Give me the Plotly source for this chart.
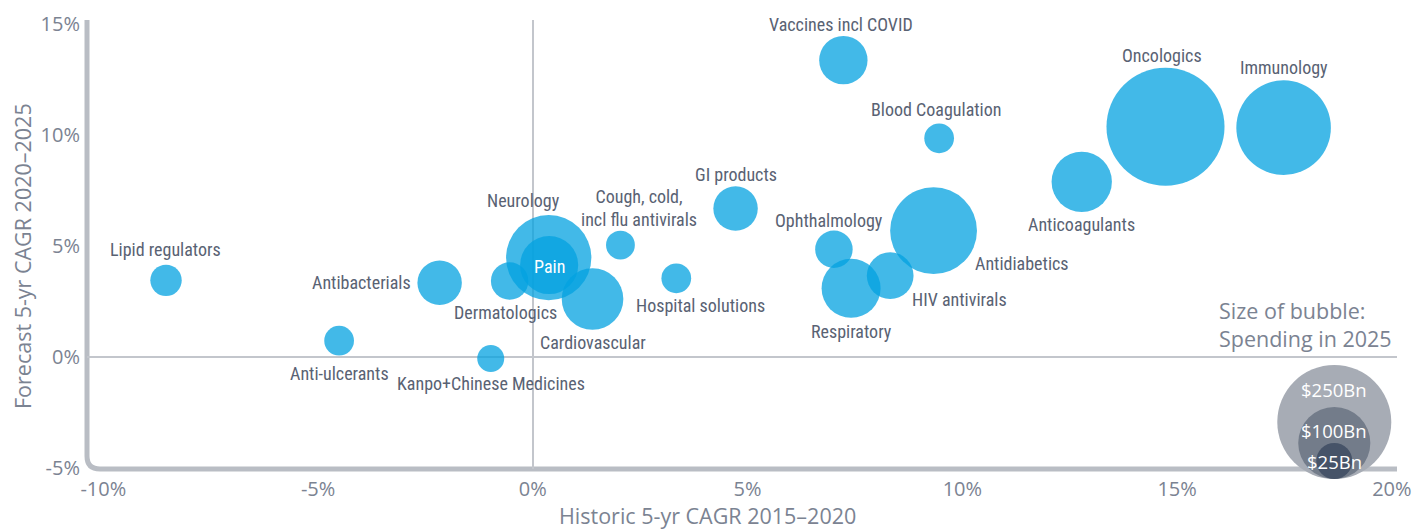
import numpy as np
import plotly.graph_objects as go

# ---------------- data ----------------
categories = [
    "Lipid regulators", "Antibacterials", "Anti-ulcerants", "Kanpo+Chinese Medicines",
    "Dermatologics", "Neurology", "Pain", "Cardiovascular",
    "Cough, cold,<br>incl flu antivirals", "Hospital solutions", "GI products",
    "Vaccines incl COVID", "Blood Coagulation", "Ophthalmology", "Respiratory",
    "HIV antivirals", "Antidiabetics", "Anticoagulants", "Oncologics", "Immunology",
]
historic_cagr = [-8.54, -2.17, -4.51, -0.98, -0.54, 0.37, 0.38, 1.39, 2.04, 3.34, 4.72,
                 7.23, 9.46, 7.01, 7.41, 8.32, 9.33, 12.78, 14.73, 17.48]
forecast_cagr = [3.44, 3.33, 0.72, -0.08, 3.41, 4.46, 4.13, 2.60, 5.03, 3.53, 6.68,
                 13.36, 9.84, 4.84, 3.08, 3.65, 5.68, 7.88, 10.36, 10.32]
spending_2025 = [19, 38, 17, 14, 27, 140, 65, 73, 16, 17, 38,
                 45, 17, 27, 67, 42, 145, 70, 268, 172]

x_tick_vals = [-10, -5, 0, 5, 10, 15, 20]
x_tick_text = ["-10%", "-5%", "0%", "5%", "10%", "15%", "20%"]
y_tick_vals = [-5, 0, 5, 10, 15]
y_tick_text = ["-5%", "0%", "5%", "10%", "15%"]

legend_values = [250, 100, 25]
legend_labels = ["$250Bn", "$100Bn", "$25Bn"]

# ---------------- styling / layout constants ----------------
W, H = 1414, 529
# plot area in page pixels
X0_PX, X1_PX, Y_TOP, Y_BOT = 87, 1397, 20, 469
XR = [-10.38, 20.12]
YR = [-5.06, 15.17]
PX_X = (X1_PX - X0_PX) / (XR[1] - XR[0])
PX_Y = (Y_BOT - Y_TOP) / (YR[1] - YR[0])


def paper_x(px):
    return (px - X0_PX) / (X1_PX - X0_PX)


def paper_y(py):
    return (Y_BOT - py) / (Y_BOT - Y_TOP)


K = 57 / np.sqrt(250)          # px radius per sqrt($Bn)
SIZEREF = 1 / (2 * K * K)       # plotly area mode: r = sqrt(v / (2*sizeref))

BUBBLE = "rgba(3,162,224,0.75)"
LABEL_COLOR = "#596273"
AXIS_TEXT = "#7b8392"
AXIS_LINE = "#b9bdc4"
ZERO_LINE = "#c3c6cc"
LABEL_FONT = "Liberation Sans Narrow, Roboto Condensed, DejaVu Sans Condensed, sans-serif"
AXIS_FONT = "Open Sans, Noto Sans, sans-serif"

# label placement: (xshift px, yshift px, xanchor)
label_place = [
    (-0.4, 31, "center"), (-26.6, 0, "right"), (0, -32.6, "center"), (0, -25, "center"),
    (-4, -31, "center"), (-25, 57, "center"), (0, -1, "center"), (0, -43.7, "center"),
    (19, 36.7, "center"), (-42.7, -26.7, "left"), (0, 34.3, "center"),
    (-2, 36, "center"), (-2.4, 29.3, "center"), (-4.6, 28.6, "center"), (0, -43.4, "center"),
    (19.5, -24.3, "left"), (39.4, -33.3, "left"), (0, -42.3, "center"), (-3.3, 71.7, "center"),
    (0, 59.7, "center"),
]

fig = go.Figure()

fig.add_trace(go.Scatter(
    x=historic_cagr, y=forecast_cagr, mode="markers",
    marker=dict(size=spending_2025, sizemode="area", sizeref=SIZEREF,
                color=BUBBLE, opacity=1, line=dict(width=0)),
    hovertext=categories, hoverinfo="text", showlegend=False,
))

annotations = []
for name, x, y, (dx, dy, anc) in zip(categories, historic_cagr, forecast_cagr, label_place):
    color = "white" if name == "Pain" else LABEL_COLOR
    annotations.append(dict(
        x=x, y=y, xref="x", yref="y", text=name, showarrow=False,
        xanchor=anc, yanchor="middle", xshift=dx, yshift=dy,
        font=dict(family=LABEL_FONT, size=18, color=color),
        align="center",
    ))

# size legend bubbles (bottom aligned)
LEG_X = 18.66
LEG_BASE_Y = YR[0] - 10 / PX_Y
leg_r = [K * np.sqrt(v) for v in legend_values]
leg_y = [LEG_BASE_Y + r / PX_Y for r in leg_r]
leg_colors = ["#a7acb5", "#737c8a", "#465368"]
fig.add_trace(go.Scatter(
    x=[LEG_X] * len(legend_values), y=leg_y, mode="markers",
    marker=dict(size=legend_values, sizemode="area", sizeref=SIZEREF,
                color=leg_colors, line=dict(width=0), opacity=1),
    cliponaxis=False, hoverinfo="skip", showlegend=False,
))
leg_label_below_top = [24, 24, 19]
for lab, r, off in zip(legend_labels, leg_r, leg_label_below_top):
    top = LEG_BASE_Y + 2 * r / PX_Y
    annotations.append(dict(
        x=LEG_X, y=top, xref="x", yref="y", text=lab, showarrow=False,
        xanchor="center", yanchor="middle", yshift=-off,
        font=dict(family=AXIS_FONT, size=18.5, color="white"),
    ))

annotations.append(dict(
    x=paper_x(1216.7), y=paper_y(324.2),
    xref="paper", yref="paper", text="Size of bubble:<br>Spending in 2025",
    showarrow=False, xanchor="left", yanchor="middle", align="left",
    font=dict(family=AXIS_FONT, size=21.5, color=AXIS_TEXT),
))
annotations.append(dict(
    x=paper_x(707.5), y=paper_y(515),
    xref="paper", yref="paper", text="Historic 5-yr CAGR 2015–2020",
    showarrow=False, xanchor="center", yanchor="middle",
    font=dict(family=AXIS_FONT, size=21.5, color=AXIS_TEXT),
))
annotations.append(dict(
    x=paper_x(22), y=paper_y(256),
    xref="paper", yref="paper", text="Forecast 5-yr CAGR 2020–2025",
    showarrow=False, xanchor="center", yanchor="middle", textangle=-90,
    font=dict(family=AXIS_FONT, size=21.5, color=AXIS_TEXT),
))

# L-shaped axis with rounded corner
cr_x = 13 / (X1_PX - X0_PX)
cr_y = 13 / (Y_BOT - Y_TOP)
axis_path = f"M 0,1 L 0,{cr_y} Q 0,0 {cr_x},0 L 1,0"

fig.update_layout(
    width=W, height=H,
    margin=dict(l=X0_PX, r=W - X1_PX, t=Y_TOP, b=H - Y_BOT, pad=0, autoexpand=False),
    paper_bgcolor="white", plot_bgcolor="white",
    xaxis=dict(range=XR, tickvals=x_tick_vals, ticktext=x_tick_text,
               showgrid=False, showline=False, zeroline=True, automargin=False,
               zerolinecolor=ZERO_LINE, zerolinewidth=2, ticks="",
               ticklabelstandoff=6, ticklabeloverflow="allow",
               tickfont=dict(family=AXIS_FONT, size=20, color=AXIS_TEXT)),
    yaxis=dict(range=YR, tickvals=y_tick_vals, ticktext=y_tick_text,
               showgrid=False, showline=False, zeroline=True, automargin=False,
               zerolinecolor=ZERO_LINE, zerolinewidth=2, ticks="",
               ticklabelstandoff=6, ticklabeloverflow="allow",
               tickfont=dict(family=AXIS_FONT, size=20, color=AXIS_TEXT)),
    shapes=[dict(type="path", path=axis_path, xref="paper", yref="paper",
                 line=dict(color=AXIS_LINE, width=5), layer="below")],
    annotations=annotations,
    showlegend=False,
)

fig.write_html(
    "out.html",
    config={"displayModeBar": False},
    post_script="document.body.style.margin='0';document.body.style.overflow='hidden';",
)
